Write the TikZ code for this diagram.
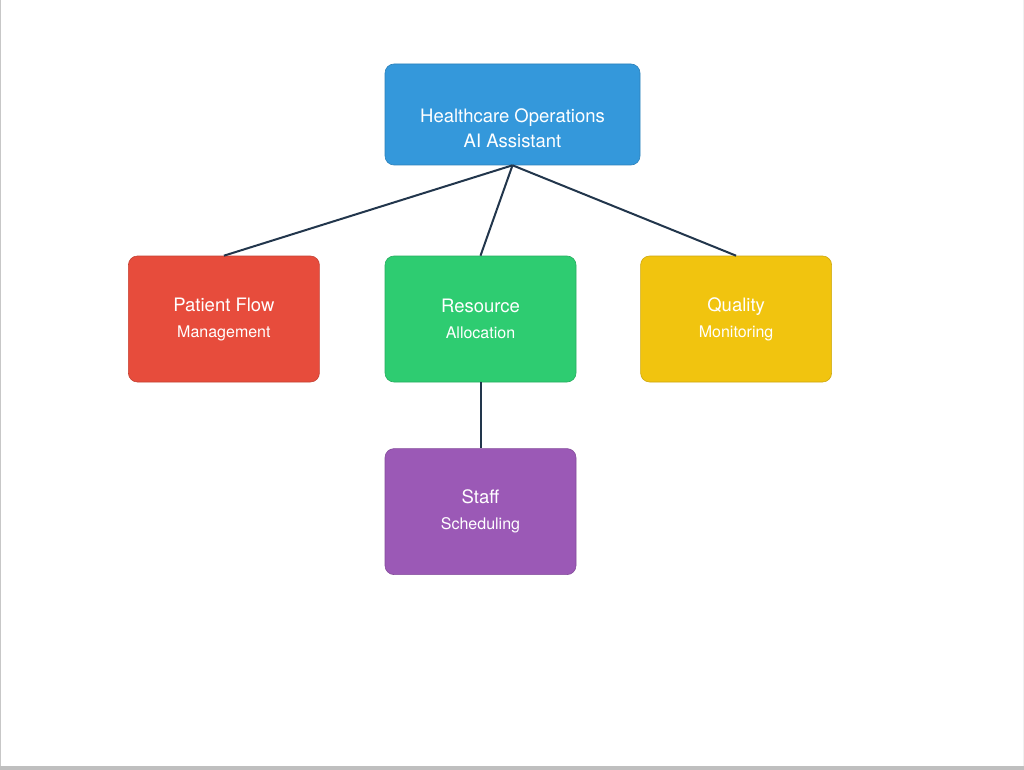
\documentclass[tikz,border=0pt]{standalone}
\usepackage{fontspec}
\setmainfont{TeX Gyre Heros}
\usetikzlibrary{positioning}
\definecolor{hcblue}{HTML}{3498DB}
\definecolor{hcred}{HTML}{E74C3C}
\definecolor{hcgreen}{HTML}{2ECC71}
\definecolor{hcyellow}{HTML}{F1C40F}
\definecolor{hcpurple}{HTML}{9B59B6}
\definecolor{hcline}{HTML}{22364C}
\newcommand{\subline}[1]{{\fontsize{16}{19}\selectfont #1}}

\begin{document}
\begin{tikzpicture}[x=1pt, y=1pt, node distance=65pt, every node/.style={font=\fontsize{18.5}{25}\selectfont, text=white}]
\tikzstyle{card}=[rectangle, rounded corners=9pt, minimum width=191pt, minimum height=126pt, align=center, line width=0.6pt]
\tikzstyle{link}=[draw=hcline, line width=2pt]

% Page frame
\useasboundingbox (0,0) rectangle (1024,-770);
\fill[white] (0,0) rectangle (1024,-770);
\fill[black!22] (0,0) rectangle (1.3,-770);
\fill[black!6] (1022.8,0) rectangle (1024,-770);
\fill[black!25] (0,-766) rectangle (1024,-770);

% Root
\node[card, fill=hcblue, draw=hcblue!85!black, minimum width=255pt, minimum height=101pt] (assistant) at (512.5,-114.5) {\mbox{}\\[16pt]Healthcare Operations\\AI Assistant};

% Middle row
\node[card, fill=hcgreen, draw=hcgreen!85!black] (resource) at (480.5,-319) {Resource\\[1pt]\subline{Allocation}};
\node[card, fill=hcred, draw=hcred!85!black, left=65pt of resource] (patient) {Patient Flow\\[1pt]\subline{Management}};
\node[card, fill=hcyellow, draw=hcyellow!85!black, right=64pt of resource] (quality) {Quality\\[1pt]\subline{Monitoring}};

% Bottom
\node[card, fill=hcpurple, draw=hcpurple!85!black, below=66pt of resource] (staff) {Staff\\[1pt]\subline{Scheduling}};

% Connections
\draw[link] (assistant.south) -- (patient.north);
\draw[link] (assistant.south) -- (resource.north);
\draw[link] (assistant.south) -- (quality.north);
\draw[link] (resource.south) -- (staff.north);
\end{tikzpicture}
\end{document}
